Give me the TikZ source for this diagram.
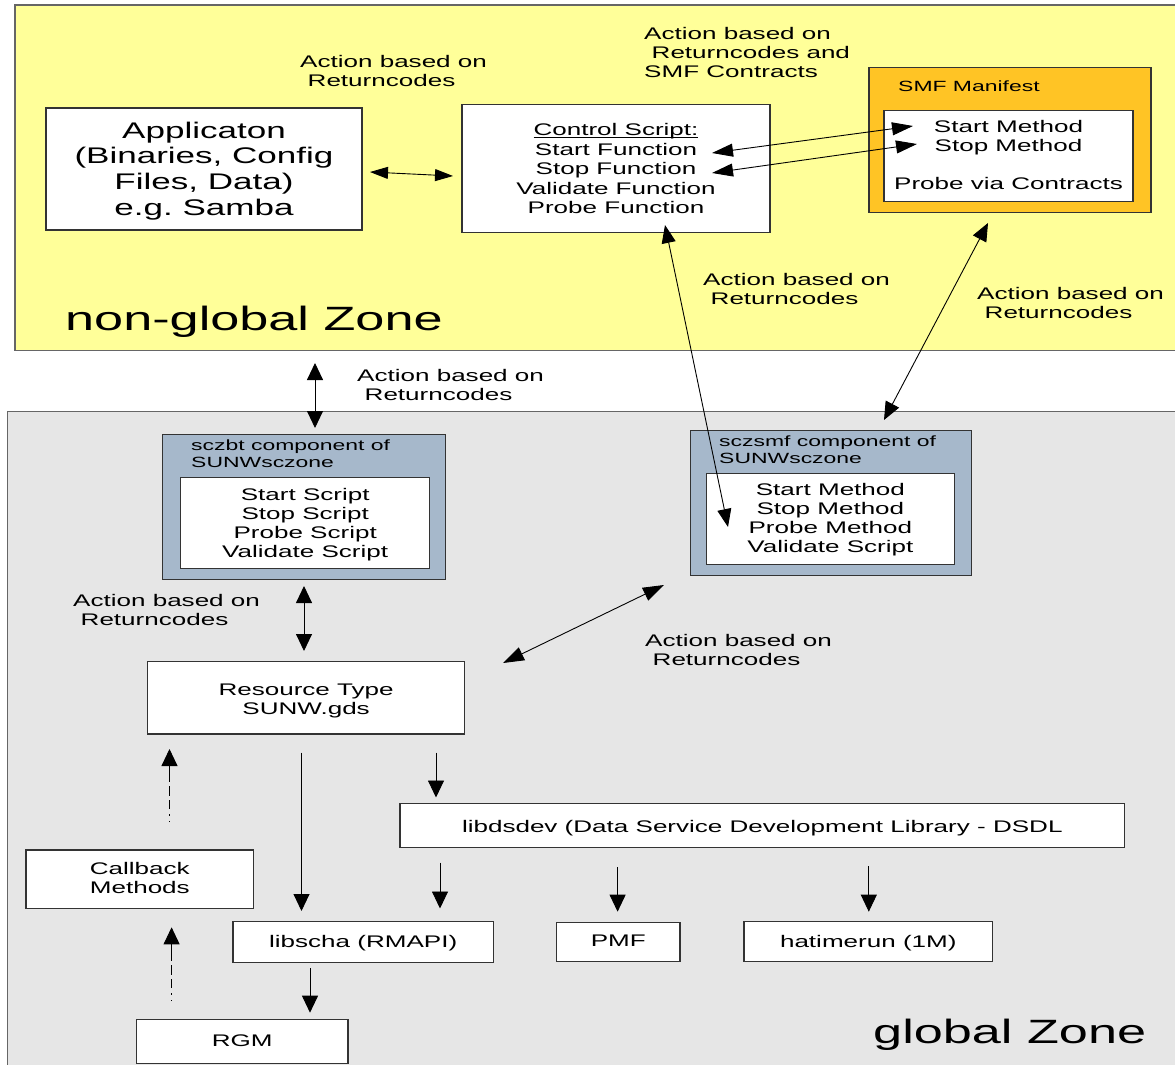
\documentclass[tikz,border=0pt]{standalone}
\usepackage{fontspec}
\setmainfont[FakeStretch=1.55]{Liberation Sans}
\usetikzlibrary{arrows.meta}
\frenchspacing
\definecolor{zoneyellow}{HTML}{FFFF99}
\definecolor{zonegray}{HTML}{E6E6E6}
\definecolor{smforange}{HTML}{FFC425}
\definecolor{compblue}{HTML}{A6B8CB}
\definecolor{boxline}{HTML}{333333}
\definecolor{zoneline}{HTML}{666666}
\newcommand\fsnorm{\fontsize{16.8}{19}\selectfont}
\newcommand\fstitle{\fontsize{14.8}{17}\selectfont}
\newcommand\fsapp{\fontsize{22.6}{25.6}\selectfont}
\newcommand\fszone{\fontsize{33.7}{40}\selectfont}
\newcommand\dn[2][-2.5pt]{\raisebox{#1}[\height][\depth]{\begin{tabular}{@{}c@{}}#2\end{tabular}}}
\tikzset{
  zonebox/.style={draw=zoneline, line width=1.3pt, inner sep=0pt},
  box/.style={draw=boxline, fill=white, line width=1.1pt, inner sep=0pt},
  container/.style={draw=boxline, line width=1.1pt, inner sep=0pt},
  lbl/.style={anchor=north west, inner sep=0pt, align=left},
  conn/.style={line width=0.9pt, draw=black},
  hdbl/.style={conn, {Triangle[length=18pt,width=12pt]}-{Triangle[length=18pt,width=12pt]}},
  ddbl/.style={conn, {Triangle[length=21pt,width=13pt]}-{Triangle[length=21pt,width=13pt]}},
  vdbl/.style={conn, {Triangle[length=17pt,width=16pt]}-{Triangle[length=17pt,width=16pt]}},
  down/.style={conn, -{Triangle[length=17pt,width=16pt]}},
  dashup/.style={conn, -{Triangle[length=17pt,width=16pt]},
     dash pattern=on 1.5pt off 5pt on 2pt off 5pt on 9pt off 4pt on 10pt off 4pt on 60pt off 0pt},
}
\begin{document}
\begin{tikzpicture}[x=1pt,y=-1pt,font=\fsnorm]
\useasboundingbox (0,0) rectangle (1175,1065);
\clip (0,0) rectangle (1175,1065);
\fill[white] (0,0) rectangle (1175,1065);

% zones
\node[zonebox, fill=zoneyellow, minimum width=1170, minimum height=345.5] (ngz) at (600,177.75) {};
\node[zonebox, fill=zonegray, minimum width=1177.5, minimum height=663.3] (gz) at (596.25,743.35) {};
\node[anchor=base west, inner sep=0pt, font=\fszone] (ngzlabel) at (65,330) {non-global Zone};
\node[anchor=base west, inner sep=0pt, font=\fszone] (gzlabel) at (873,1043) {global Zone};

% non-global zone boxes
\node[box, font=\fsapp, minimum width=316, minimum height=122] (app) at (204,169)
  {\dn{Applicaton\\(Binaries, Config\\Files, Data)\\e.g. Samba}};
\node[box, minimum width=308, minimum height=128] (ctrl) at (616,168.3)
  {\def\arraystretch{1.025}\dn[-2.5pt]{\underline{\smash{Control Script:}}\\Start Function\\Stop Function\\Validate Function\\Probe Function}};
\node[container, fill=smforange, minimum width=282, minimum height=144.6] (smf) at (1010,140) {};
\node[anchor=base west, inner sep=0pt, font=\fstitle] (smftitle) at (898,92) {SMF Manifest};
\node[box, minimum width=249, minimum height=91] (smfin) at (1008.5,155.8)
  {\dn[-1.5pt]{Start Method\\Stop Method\\\mbox{}\\Probe via Contracts}};

% global zone boxes
\node[container, fill=compblue, minimum width=282.4, minimum height=144.6] (bt) at (304,507) {};
\node[lbl, font=\fstitle] (bttitle) at (191,440) {sczbt component of\\SUNWsczone};
\node[box, minimum width=249.4, minimum height=91.3] (btin) at (305.2,523)
  {\dn{Start Script\\Stop Script\\Probe Script\\Validate Script}};
\node[container, fill=compblue, minimum width=281.3, minimum height=144.6] (sm) at (831.1,503) {};
\node[lbl, font=\fstitle] (smtitle) at (719,436) {sczsmf component of\\SUNWsczone};
\node[box, minimum width=248.4, minimum height=90.7] (smin) at (830.4,518.7)
  {\dn[-1.5pt]{Start Method\\Stop Method\\Probe Method\\Validate Script}};

\node[box, minimum width=317.3, minimum height=72.3] (rt) at (306.1,697.8) {\dn[-3pt]{Resource Type\\SUNW.gds}};
\node[box, minimum width=724.7, minimum height=44] (dsdl) at (762.3,825.3)
  {\dn[-3pt]{libdsdev (Data Service Development Library - DSDL}};
\node[box, minimum width=227.6, minimum height=58.7] (cb) at (139.8,879.3) {\dn[-1pt]{Callback\\Methods}};
\node[box, minimum width=260.5, minimum height=41.3] (scha) at (363.2,941.7) {\dn[-2pt]{libscha (RMAPI)}};
\node[box, minimum width=123.4, minimum height=38.7] (pmf) at (618.3,941.7) {\dn[-1pt]{PMF}};
\node[box, minimum width=248.7, minimum height=39.7] (hat) at (868.3,941.2) {\dn[-2.5pt]{hatimerun (1M)}};
\node[box, minimum width=211.6, minimum height=44.3] (rgm) at (242.2,1041.2) {\dn[-1pt]{RGM}};

% labels
\node[lbl] (l1) at (300,55) {Action based on\\\hspace*{7.5pt}Returncodes};
\node[lbl] (l2) at (644,27) {Action based on\\\hspace*{7.5pt}Returncodes and\\SMF Contracts};
\node[lbl] (l3) at (703,273) {Action based on\\\hspace*{7.5pt}Returncodes};
\node[lbl] (l4) at (977,287) {Action based on\\\hspace*{7.5pt}Returncodes};
\node[lbl] (l5) at (357,369.5) {Action based on\\\hspace*{7.5pt}Returncodes};
\node[lbl] (l6) at (73,594.5) {Action based on\\\hspace*{7.5pt}Returncodes};
\node[lbl] (l7) at (645,634.5) {Action based on\\\hspace*{7.5pt}Returncodes};

% connector end points
\coordinate (appR) at (370,172);
\coordinate (ctrlL) at (453,176);
\coordinate (ctrlStart) at (712,153);
\coordinate (smfStart) at (913,126);
\coordinate (ctrlStop) at (712,173);
\coordinate (smfStop) at (917,144);
\coordinate (ctrlB) at (665,225);
\coordinate (smIn) at (728,527);
\coordinate (smfB) at (988,223);
\coordinate (smT) at (884,420);
\coordinate (ngzB) at (315,363);
\coordinate (btT) at (315,428);
\coordinate (btB) at (304,586);
\coordinate (rtT) at (304,651);
\coordinate (rtR) at (503,663);
\coordinate (smB) at (664,585);
\coordinate (rtB1) at (301.5,752.7);
\coordinate (schaT1) at (301.5,911);
\coordinate (rtB2) at (436,752.7);
\coordinate (dsdlT) at (436,797.5);
\coordinate (dsdlB1) at (440,862.7);
\coordinate (schaT2) at (440,908.5);
\coordinate (dsdlB2) at (617.6,867.3);
\coordinate (pmfT) at (617.6,911.7);
\coordinate (dsdlB3) at (868.8,866);
\coordinate (hatT) at (868.8,911.7);
\coordinate (schaB) at (310,968);
\coordinate (rgmT) at (310,1012.7);
\coordinate (cbT) at (169.5,822);
\coordinate (rtBl) at (169.5,749);
\coordinate (rgmTl) at (171.6,1001);
\coordinate (cbB) at (171.6,927.3);

% connectors
\draw[hdbl] (appR) -- (ctrlL);
\draw[ddbl] (ctrlStart) -- (smfStart);
\draw[ddbl] (ctrlStop) -- (smfStop);
\draw[conn, {Triangle[length=18pt,width=14pt]}-{Triangle[length=18pt,width=14pt]}] (ctrlB) -- (smIn);
\draw[conn, {Triangle[length=18pt,width=15pt]}-{Triangle[length=18pt,width=15pt]}] (smfB) -- (smT);
\draw[vdbl] (ngzB) -- (btT);
\draw[vdbl] (btB) -- (rtT);
\draw[conn, {Triangle[length=21pt,width=14pt]}-{Triangle[length=21pt,width=14pt]}] (rtR) -- (smB);
\draw[down] (rtB1) -- (schaT1);
\draw[down] (rtB2) -- (dsdlT);
\draw[down] (dsdlB1) -- (schaT2);
\draw[down] (dsdlB2) -- (pmfT);
\draw[down] (dsdlB3) -- (hatT);
\draw[down] (schaB) -- (rgmT);
\draw[dashup] (cbT) -- (rtBl);
\draw[dashup] (rgmTl) -- (cbB);
\end{tikzpicture}
\end{document}
